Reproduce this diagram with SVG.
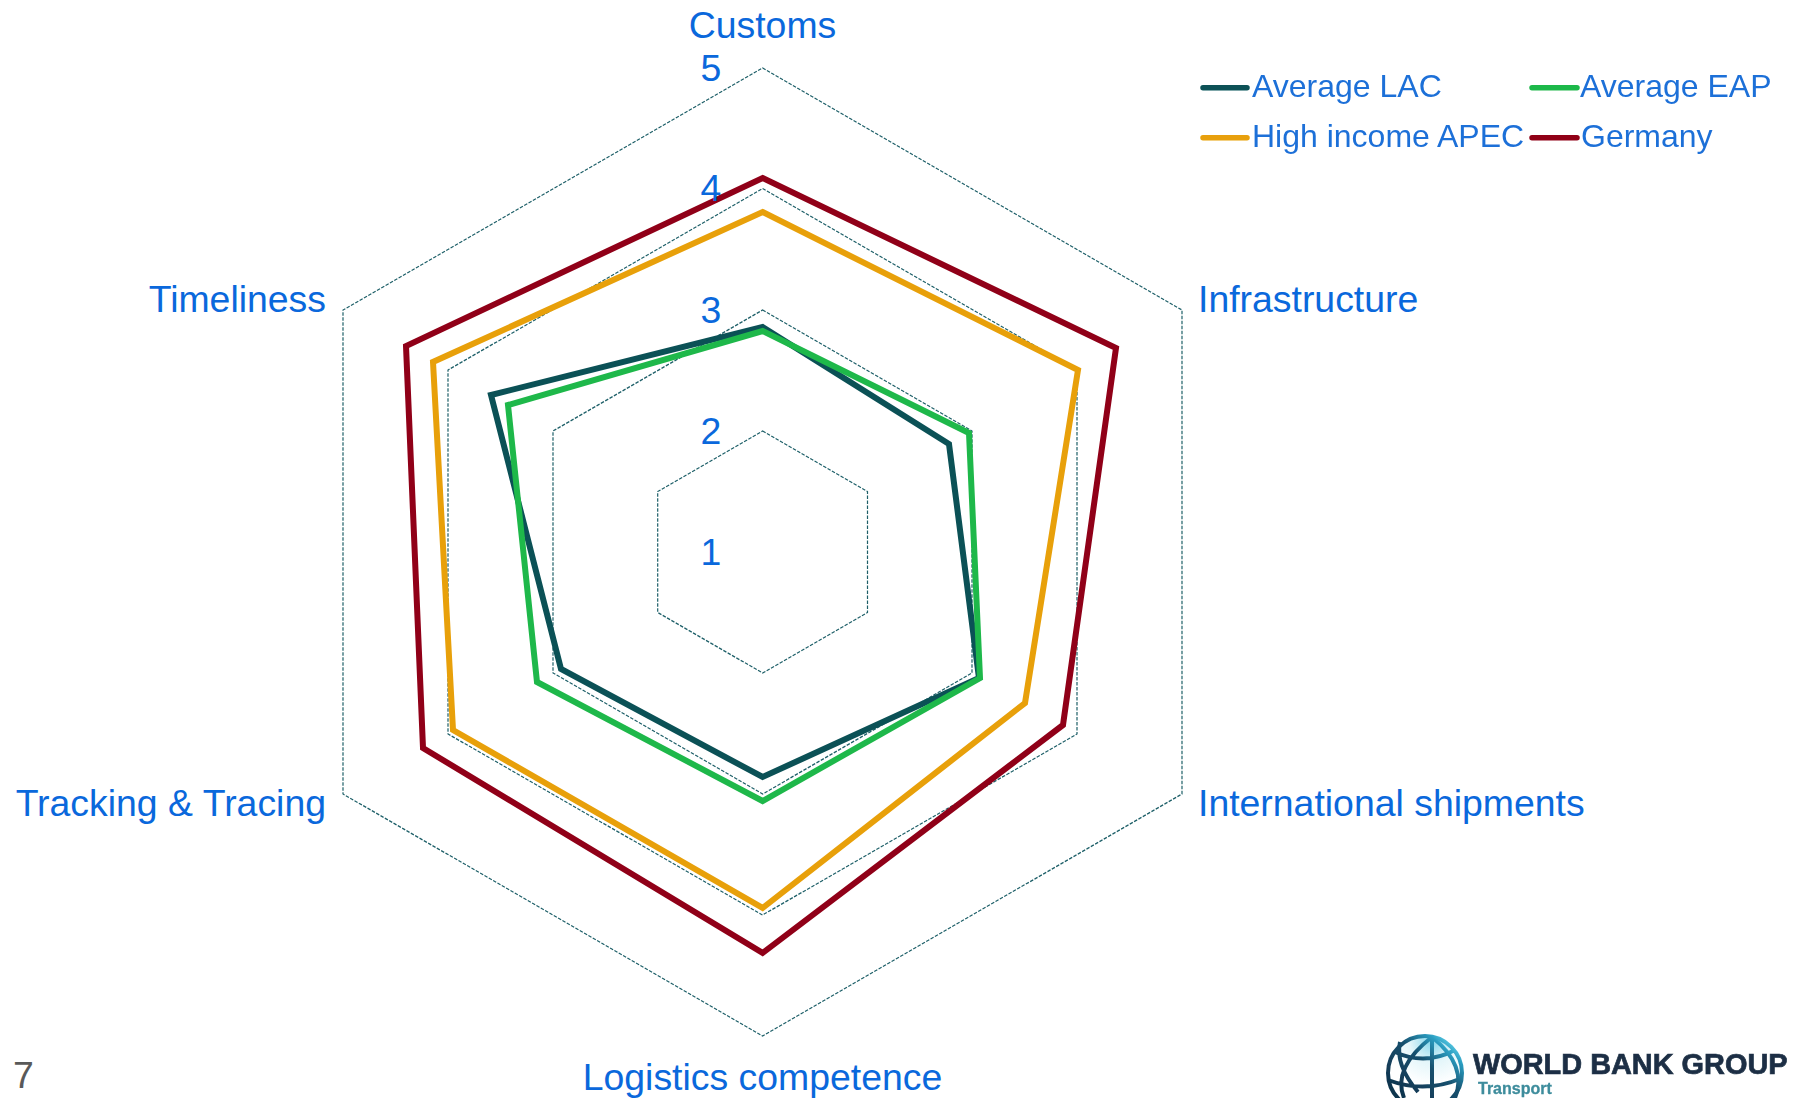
<svg xmlns="http://www.w3.org/2000/svg" width="1793" height="1098" viewBox="0 0 1793 1098">
<style>
text{font-family:"Liberation Sans",Arial,sans-serif;fill:#0a68dc;font-size:37.4px}
.leg{font-size:32px;fill:#1f70d8}
.mid{text-anchor:middle}.end{text-anchor:end}
.grid{fill:none;stroke:#1d5f68;stroke-width:1.2;stroke-dasharray:3.5 1.5}
.s{fill:none;stroke-width:6;stroke-linejoin:miter}
.k{fill:none;stroke-width:5.5;stroke-linecap:round}
.lac{stroke:#0b5156}.eap{stroke:#1eb84a}.apec{stroke:#e8a00a}.ger{stroke:#900018}
.gl{fill:none;stroke:url(#gs);stroke-width:4}
</style>
<defs>
<filter id="soft" x="-5%" y="-20%" width="110%" height="140%"><feGaussianBlur stdDeviation="0.55"/></filter>
<radialGradient id="globe" gradientUnits="userSpaceOnUse" cx="1432" cy="1040" r="45"><stop offset="0" stop-color="#7fd4ea"/><stop offset="0.5" stop-color="#e4f6fa"/><stop offset="1" stop-color="#ffffff"/></radialGradient>
<linearGradient id="gs" gradientUnits="userSpaceOnUse" x1="1395" y1="1090" x2="1445" y2="1034"><stop offset="0" stop-color="#10344e"/><stop offset="0.55" stop-color="#17506e"/><stop offset="0.85" stop-color="#2a9cc0"/><stop offset="1" stop-color="#5fd0e8"/></linearGradient>
</defs>
<rect width="1793" height="1098" fill="#fff"/>
<g id="grid">
<polygon class="grid" points="762.6,68 1182,310 1182,794 762.6,1036 343,794 343,310"/>
<polygon class="grid" points="762.6,188.5 1077,370 1077,734 762.6,915 448,734 448,370"/>
<polygon class="grid" points="762.6,310 972,431 972,673 762.6,794 553,673 553,431"/>
<polygon class="grid" points="762.6,431 867.5,491.5 867.5,612.5 762.6,673 657.7,612.5 657.7,491.5"/>
</g>
<g id="connectors">
<polygon class="s lac" points="762.6,327 949,444 979,678 762.6,777 561,669 491,395"/>
<polygon class="s eap" points="762.6,331 969,433 980,678 762.6,801 537,682 508,405"/>
<polygon class="s apec" points="762.6,212 1078,370 1025,703 762.6,908 453,730 433,362"/>
<polygon class="s ger" points="762.6,178 1116,348 1063,725 762.6,953 423,748 406,346"/>
</g>
<g id="axis-values">
<text x="711" y="81" class="mid">5</text>
<text x="711" y="201" class="mid">4</text>
<text x="711" y="323" class="mid">3</text>
<text x="711" y="444" class="mid">2</text>
<text x="711" y="565" class="mid">1</text>
</g>
<g id="node-customs"><text x="762.5" y="38" class="mid">Customs</text></g>
<g id="node-infrastructure"><text x="1198" y="312">Infrastructure</text></g>
<g id="node-international"><text x="1198" y="816">International shipments</text></g>
<g id="node-logistics"><text x="762.5" y="1090" class="mid">Logistics competence</text></g>
<g id="node-tracking"><text x="326" y="816" class="end">Tracking &amp; Tracing</text></g>
<g id="node-timeliness"><text x="326" y="312" class="end">Timeliness</text></g>
<g id="legend" filter="url(#soft)">
<line class="k lac" x1="1203" y1="87.7" x2="1247" y2="87.7"/>
<text class="leg" x="1252" y="96.5">Average LAC</text>
<line class="k eap" x1="1532" y1="87.7" x2="1577" y2="87.7"/>
<text class="leg" x="1580" y="96.5">Average EAP</text>
<line class="k apec" x1="1203" y1="137.7" x2="1247" y2="137.7"/>
<text class="leg" x="1252" y="146.5">High income APEC</text>
<line class="k ger" x1="1532" y1="137.7" x2="1577" y2="137.7"/>
<text class="leg" x="1581" y="146.5">Germany</text>
</g>
<g id="page-number"><text x="13" y="1088" style="fill:#595959">7</text></g>
<g id="logo" filter="url(#soft)">
<circle cx="1425" cy="1073" r="37" fill="url(#globe)"/>
<circle class="gl" cx="1425" cy="1073" r="37"/>
<path class="gl" d="M1432 1037V1098M1432 1037Q1392 1068 1404 1098M1432 1037Q1468 1066 1455 1098M1395 1052Q1425 1066 1455 1050M1388 1080Q1425 1094 1462 1078M1400 1042Q1395 1065 1418 1092"/>
<text x="1473" y="1074" style="font-size:28.9px;font-weight:bold;fill:#1c2f44;stroke:#1c2f44;stroke-width:0.7">WORLD BANK GROUP</text>
<text x="1478" y="1094" style="font-size:16px;font-weight:bold;fill:#3d8c9c;stroke:#3d8c9c;stroke-width:0.3">Transport</text>
</g>
</svg>
